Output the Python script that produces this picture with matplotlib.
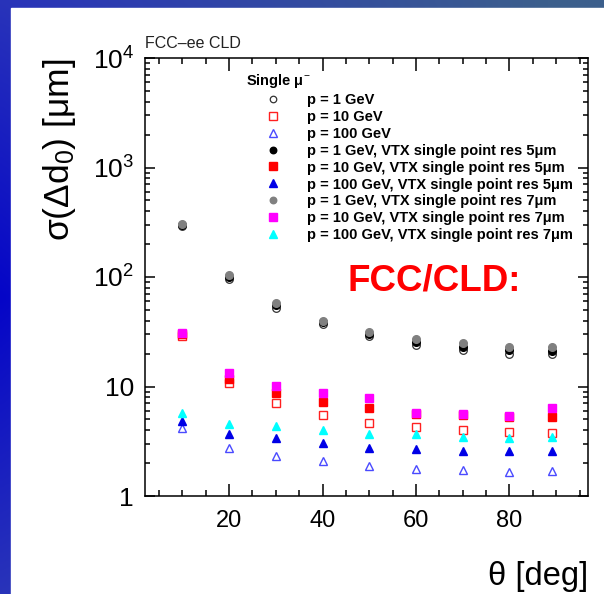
import numpy as np
import matplotlib
matplotlib.use("Agg")
from matplotlib import pyplot as plt
from matplotlib.ticker import FixedLocator, MultipleLocator, NullFormatter, FuncFormatter

plt.rcParams["font.family"] = ["Liberation Sans", "DejaVu Sans"]
plt.rcParams["mathtext.fontset"] = "custom"
plt.rcParams["mathtext.rm"] = "Liberation Sans"
plt.rcParams["mathtext.it"] = "Liberation Sans"
plt.rcParams["mathtext.bf"] = "Liberation Sans:bold"

# theta [deg]
theta = [10, 20, 30, 40, 50, 60, 70, 80, 89]

# sigma(Delta d0) [um]
p1 = [290, 95, 52.5, 37.2, 28.9, 23.9, 21.5, 19.7, 19.8]
p10 = [29, 10.8, 7.1, 5.49, 4.67, 4.3, 3.98, 3.84, 3.79]
p100 = [4.2, 2.73, 2.33, 2.09, 1.88, 1.75, 1.73, 1.67, 1.70]
p1_5 = [300, 100.6, 55.5, 38.6, 30.2, 25.7, 22.8, 21.5, 21.2]
p10_5 = [30, 11.6, 8.78, 7.26, 6.36, 5.65, 5.45, 5.25, 5.26]
p100_5 = [4.84, 3.66, 3.37, 3.03, 2.73, 2.67, 2.59, 2.59, 2.59]
p1_7 = [305, 104, 57.5, 39.7, 31.7, 27, 24.8, 23.1, 23.1]
p10_7 = [31, 13.4, 10.2, 8.67, 7.8, 5.77, 5.57, 5.38, 6.41]
p100_7 = [5.7, 4.5, 4.36, 3.98, 3.7, 3.66, 3.48, 3.41, 3.48]

labels = [
    "p = 1 GeV",
    "p = 10 GeV",
    "p = 100 GeV",
    "p = 1 GeV, VTX single point res 5μm",
    "p = 10 GeV, VTX single point res 5μm",
    "p = 100 GeV, VTX single point res 5μm",
    "p = 1 GeV, VTX single point res 7μm",
    "p = 10 GeV, VTX single point res 7μm",
    "p = 100 GeV, VTX single point res 7μm",
]

fig = plt.figure(figsize=(6.04, 5.94), dpi=100)

# fundo azul do slide
bg = fig.add_axes([0, 0, 1, 1], zorder=-10)
gx = np.linspace(0, 1, 200)
gy = np.linspace(0, 1, 200)
X, Y = np.meshgrid(gx, gy)
c0 = np.array([5, 5, 200]) / 255.0
c1 = np.array([60, 95, 140]) / 255.0
t = np.clip(X * 1.1, 0, 1)[..., None]
img = c0 * (1 - t) + c1 * t
light = (0.14 * np.abs(Y - 0.5) * 2)[..., None] * (1 - t)
img = np.clip(img + light * np.array([1.0, 1.3, -0.4]), 0, 1)
bg.imshow(img, extent=[0, 1, 0, 1], aspect="auto")
bg.add_patch(plt.Rectangle((11 / 604, 0), 1, 1 - 8 / 594, color="white"))
bg.set_xlim(0, 1)
bg.set_ylim(0, 1)
bg.axis("off")

ax = fig.add_axes([145 / 604, 98 / 594, 443 / 604, 438 / 594])

ms = 5.5
ax.plot(theta, p1, "o", ls="none", mfc="none", mec="#333333", mew=0.9, ms=ms, label=labels[0])
ax.plot(theta, p10, "s", ls="none", mfc="none", mec="#ff2020", mew=1.0, ms=ms + 0.5, label=labels[1])
ax.plot(theta, p100, "^", ls="none", mfc="none", mec="#4a4aff", mew=1.0, ms=ms + 0.5, label=labels[2])
ax.plot(theta, p1_5, "o", ls="none", color="black", ms=ms, label=labels[3])
ax.plot(theta, p10_5, "s", ls="none", color="#ff0000", ms=ms + 0.5, label=labels[4])
ax.plot(theta, p100_5, "^", ls="none", color="#0000e6", ms=ms + 0.5, label=labels[5])
ax.plot(theta, p1_7, "o", ls="none", color="#808080", ms=ms, label=labels[6])
ax.plot(theta, p10_7, "s", ls="none", color="#ff00ff", ms=ms + 0.5, label=labels[7])
ax.plot(theta, p100_7, "^", ls="none", color="#00ffff", ms=ms + 0.5, label=labels[8])

ax.set_yscale("log")
ax.set_ylim(1, 1e4)
ax.set_xlim(2, 96.8)

ax.xaxis.set_major_locator(FixedLocator([20, 40, 60, 80]))
ax.xaxis.set_minor_locator(MultipleLocator(5))
ax.yaxis.set_major_locator(FixedLocator([1, 10, 100, 1000, 10000]))
minors = [m * 10 ** d for d in range(4) for m in range(2, 10)]
ax.yaxis.set_minor_locator(FixedLocator(minors))
ax.yaxis.set_minor_formatter(NullFormatter())


def ylab(v, pos):
    if v == 1:
        return "1"
    if v == 10:
        return "10"
    return "$10^{%d}$" % round(np.log10(v))


ax.yaxis.set_major_formatter(FuncFormatter(ylab))

ax.tick_params(which="both", direction="in", top=True, right=True, width=1.1)
ax.tick_params(axis="x", which="major", length=9, labelsize=17, pad=10)
ax.tick_params(axis="x", which="minor", length=4.5)
ax.tick_params(axis="y", which="major", length=7.5, labelsize=19, pad=8)
ax.tick_params(axis="y", which="minor", length=3.8)
for s in ax.spines.values():
    s.set_linewidth(1.1)

ax.set_xlabel("θ [deg]", fontsize=23.5, loc="right")
ax.xaxis.set_label_coords(1.0, -0.148)
ax.set_ylabel("σ(Δd$_0$) [μm]", fontsize=25.5, loc="top")
ax.yaxis.set_label_coords(-0.152, 1.0)

leg = ax.legend(
    title="Single μ$^{-}$",
    loc="upper left",
    bbox_to_anchor=(0.228, 0.968),
    frameon=False,
    prop={"size": 10.5, "weight": "bold"},
    title_fontproperties={"size": 10.5, "weight": "bold"},
    alignment="left",
    borderpad=0,
    borderaxespad=0,
    labelspacing=0.2,
    handlelength=3.7,
    handletextpad=0.5,
    markerscale=0.85,
)

ax.text(0.456, 0.470, "FCC/CLD:", transform=ax.transAxes, color="red",
        fontsize=26.5, fontweight="bold", ha="left", va="baseline")

fig.text(145 / 604, (594 - 48) / 594, "FCC–ee CLD", fontsize=11.5,
         color="#222222", ha="left", va="baseline")

plt.savefig("out.png", dpi=100)
